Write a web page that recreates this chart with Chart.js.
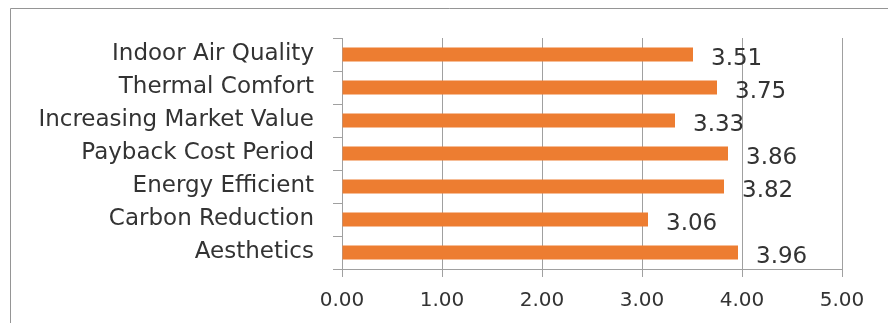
<!DOCTYPE html>
<html>
<head>
<meta charset="utf-8">
<script src="https://cdn.jsdelivr.net/npm/chart.js"></script>
<style>
  html, body { margin: 0; padding: 0; background: #fff; }
  canvas { display: block; }
</style>
</head>
<body>
<canvas id="factorChart" width="888" height="323"></canvas>
<script>
const factors = [
  "Indoor Air Quality",
  "Thermal Comfort",
  "Increasing Market Value",
  "Payback Cost Period",
  "Energy Efficient",
  "Carbon Reduction",
  "Aesthetics"
];
const meanScores = [3.51, 3.75, 3.33, 3.86, 3.82, 3.06, 3.96];
const xTicks = [0, 1, 2, 3, 4, 5];

const textColor = "#333333";
const lineColor = "#a0a0a0";

// thin frame along the top and left edge
const framePlugin = {
  id: "frame",
  beforeDraw(chart) {
    const ctx = chart.ctx;
    ctx.save();
    ctx.strokeStyle = "#959595";
    ctx.lineWidth = 1;
    ctx.beginPath();
    ctx.moveTo(10.5, chart.height);
    ctx.lineTo(10.5, 8.5);
    ctx.lineTo(chart.width, 8.5);
    ctx.stroke();
    ctx.restore();
  }
};

// value printed to the right of each bar
const valueLabels = {
  id: "valueLabels",
  afterDatasetsDraw(chart) {
    const ctx = chart.ctx;
    const meta = chart.getDatasetMeta(0);
    ctx.save();
    ctx.fillStyle = textColor;
    ctx.font = "23px 'DejaVu Sans'";
    ctx.textAlign = "left";
    ctx.textBaseline = "alphabetic";
    meta.data.forEach((bar, i) => {
      ctx.fillText(meanScores[i].toFixed(2), bar.x + 18, bar.y + 10);
    });
    ctx.restore();
  }
};

const ctx = document.getElementById("factorChart").getContext("2d");
new Chart(ctx, {
  type: "bar",
  data: {
    labels: factors,
    datasets: [{
      data: meanScores,
      backgroundColor: "#ed7d31",
      borderWidth: 0,
      categoryPercentage: 1,
      barPercentage: 0.43
    }]
  },
  options: {
    indexAxis: "y",
    responsive: false,
    devicePixelRatio: 1,
    animation: false,
    layout: { padding: { top: 38, right: 46, left: 0, bottom: 0 } },
    plugins: {
      legend: { display: false },
      tooltip: { enabled: false }
    },
    scales: {
      x: {
        min: xTicks[0],
        max: xTicks[xTicks.length - 1],
        afterBuildTicks(scale) {
          scale.ticks = xTicks.map(v => ({ value: v }));
        },
        afterFit(scale) { scale.height = 54; },
        grid: {
          color: lineColor,
          lineWidth: 1,
          tickLength: 8,
          drawTicks: true
        },
        border: { color: lineColor, width: 1 },
        ticks: {
          color: textColor,
          font: { family: "DejaVu Sans", size: 20 },
          padding: 12,
          maxRotation: 0,
          callback: v => Number(v).toFixed(2)
        }
      },
      y: {
        afterFit(scale) { scale.width = 342; },
        grid: {
          offset: true,
          drawOnChartArea: false,
          drawTicks: true,
          tickLength: 9,
          color: lineColor
        },
        border: { color: lineColor, width: 1 },
        ticks: {
          color: textColor,
          font: { family: "DejaVu Sans", size: 23 },
          padding: 19
        }
      }
    }
  },
  plugins: [framePlugin, valueLabels]
});
</script>
</body>
</html>
